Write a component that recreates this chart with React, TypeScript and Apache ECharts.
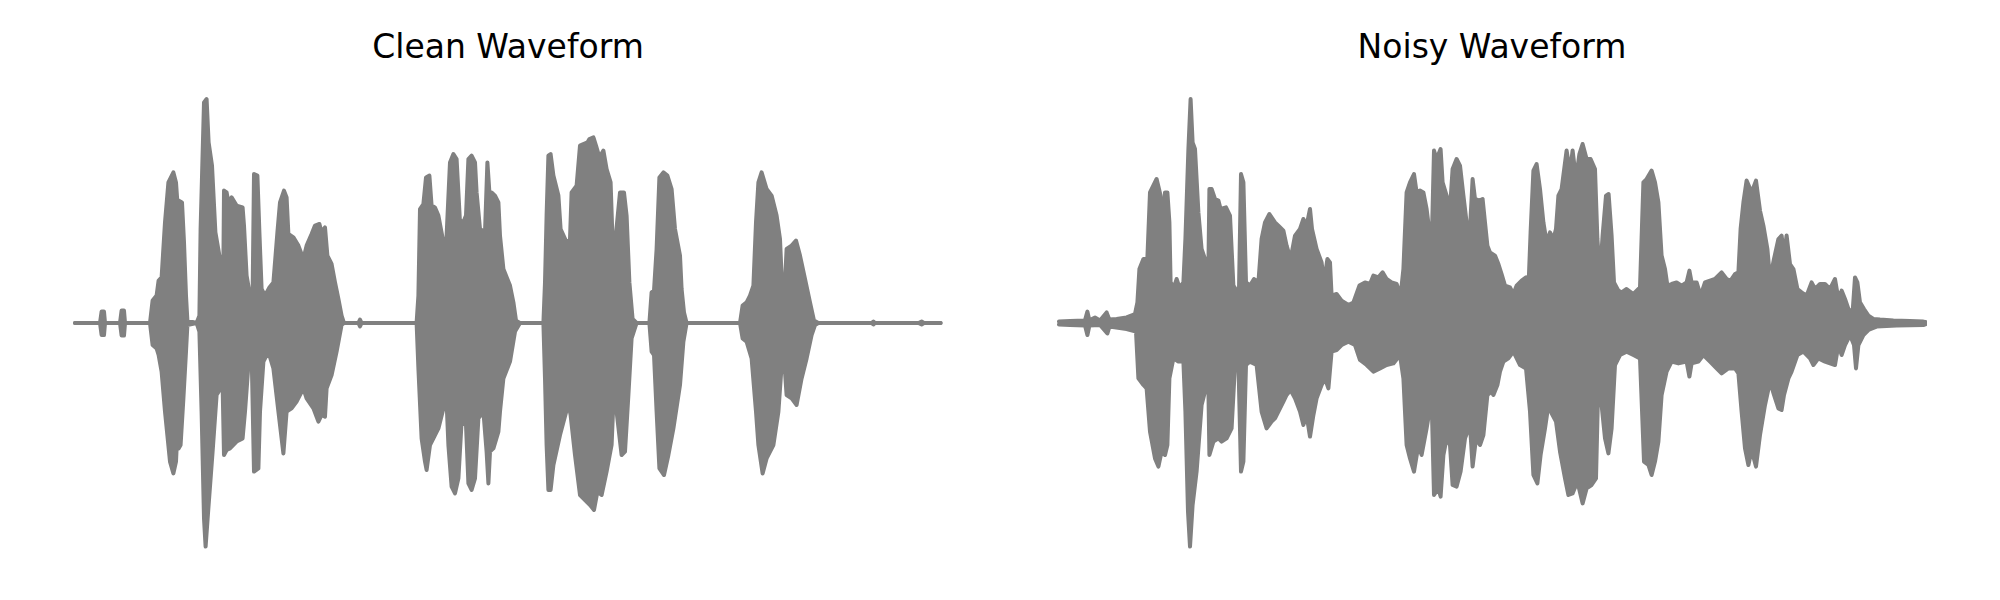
import React, { useEffect, useRef } from "react";
import * as echarts from "echarts";

// Time in seconds, amplitude normalised (envelope of the waveform)
const titles = ["Clean Waveform", "Noisy Waveform"];
const duration = 4.33;

const cleanUpper: [number, number][] = [
  [0, 0], [0.125, 0], [0.133, 0.057], [0.145, 0.057], [0.15, 0], [0.225, 0], [0.233, 0.062], [0.245, 0.062], [0.25, 0],
  [0.375, 0], [0.388, 0.112], [0.408, 0.137], [0.418, 0.212], [0.433, 0.228], [0.45, 0.503], [0.467, 0.703], [0.492, 0.753],
  [0.505, 0.703], [0.512, 0.603], [0.518, 0.612], [0.535, 0.603], [0.545, 0.403], [0.555, 0.137], [0.562, 0.012], [0.608, 0],
  [0.622, 0.037], [0.628, 0.47], [0.645, 1.103], [0.658, 1.12], [0.668, 0.903], [0.685, 0.787], [0.702, 0.453], [0.722, 0.337],
  [0.742, 0.303], [0.745, 0.662], [0.758, 0.653], [0.767, 0.603], [0.783, 0.628], [0.808, 0.587], [0.838, 0.578], [0.845, 0.487],
  [0.858, 0.237], [0.878, 0.12], [0.888, 0.137], [0.895, 0.745], [0.912, 0.737], [0.922, 0.453], [0.933, 0.17], [0.95, 0.137],
  [0.972, 0.178], [0.992, 0.203], [1.012, 0.453], [1.025, 0.603], [1.045, 0.662], [1.058, 0.628], [1.067, 0.445], [1.092, 0.428],
  [1.117, 0.387], [1.142, 0.32], [1.158, 0.387], [1.183, 0.445], [1.2, 0.487], [1.222, 0.495], [1.233, 0.453], [1.25, 0.478],
  [1.262, 0.337], [1.283, 0.295], [1.3, 0.203], [1.317, 0.12], [1.333, 0.037], [1.345, 0], [1.417, 0], [1.425, 0.017], [1.433, 0],
  [1.708, 0], [1.717, 0.137], [1.725, 0.57], [1.742, 0.595], [1.755, 0.728], [1.772, 0.737], [1.783, 0.587], [1.8, 0.578],
  [1.817, 0.537], [1.842, 0.403], [1.853, 0.27], [1.858, 0.437], [1.875, 0.803], [1.892, 0.845], [1.908, 0.82], [1.925, 0.503],
  [1.945, 0.512], [1.955, 0.537], [1.967, 0.82], [1.983, 0.837], [2.0, 0.803], [2.008, 0.653], [2.025, 0.47], [2.05, 0.453],
  [2.062, 0.803], [2.072, 0.653], [2.083, 0.653], [2.1, 0.637], [2.117, 0.603], [2.125, 0.437], [2.142, 0.27], [2.175, 0.187],
  [2.192, 0.103], [2.205, 0.012], [2.225, 0], [2.342, 0], [2.35, 0.203], [2.358, 0.537], [2.367, 0.837], [2.378, 0.845],
  [2.392, 0.737], [2.417, 0.637], [2.428, 0.47], [2.458, 0.403], [2.475, 0.42], [2.483, 0.653], [2.508, 0.687], [2.525, 0.887],
  [2.542, 0.895], [2.562, 0.903], [2.572, 0.92], [2.592, 0.928], [2.605, 0.887], [2.622, 0.828], [2.642, 0.862], [2.658, 0.77],
  [2.678, 0.703], [2.688, 0.403], [2.7, 0.395], [2.725, 0.653], [2.745, 0.653], [2.758, 0.537], [2.772, 0.203], [2.788, 0.02],
  [2.808, 0], [2.872, 0], [2.883, 0.153], [2.895, 0.162], [2.908, 0.37], [2.922, 0.728], [2.942, 0.753], [2.962, 0.737],
  [2.983, 0.67], [3.0, 0.47], [3.025, 0.337], [3.033, 0.17], [3.045, 0.053], [3.058, 0], [3.325, 0], [3.338, 0.087],
  [3.358, 0.103], [3.375, 0.137], [3.392, 0.187], [3.405, 0.503], [3.417, 0.703], [3.433, 0.753], [3.458, 0.67], [3.483, 0.637],
  [3.508, 0.537], [3.525, 0.42], [3.538, 0.12], [3.55, 0.203], [3.558, 0.37], [3.583, 0.387], [3.605, 0.412], [3.625, 0.337],
  [3.65, 0.22], [3.675, 0.103], [3.695, 0.012], [3.717, 0], [3.983, 0], [3.992, 0.007], [4.0, 0], [4.217, 0], [4.233, 0.007],
  [4.245, 0], [4.328, 0],
];

const cleanLower: [number, number][] = [
  [0, 0], [0.125, 0], [0.133, -0.06], [0.145, -0.06], [0.15, 0], [0.225, 0], [0.233, -0.063], [0.245, -0.063], [0.25, 0],
  [0.375, 0], [0.388, -0.11], [0.408, -0.127], [0.418, -0.16], [0.433, -0.243], [0.45, -0.443], [0.475, -0.693], [0.492, -0.752],
  [0.505, -0.693], [0.512, -0.543], [0.518, -0.627], [0.528, -0.61], [0.542, -0.377], [0.555, -0.143], [0.562, -0.01], [0.608, 0],
  [0.622, -0.043], [0.633, -0.443], [0.645, -0.977], [0.653, -1.118], [0.668, -0.91], [0.688, -0.643], [0.708, -0.36],
  [0.738, -0.31], [0.745, -0.66], [0.758, -0.635], [0.775, -0.627], [0.808, -0.593], [0.838, -0.577], [0.85, -0.443],
  [0.867, -0.21], [0.883, -0.143], [0.895, -0.743], [0.917, -0.727], [0.925, -0.443], [0.942, -0.193], [0.967, -0.143],
  [0.992, -0.227], [1.017, -0.443], [1.042, -0.652], [1.058, -0.443], [1.083, -0.427], [1.108, -0.393], [1.142, -0.327],
  [1.158, -0.377], [1.192, -0.427], [1.217, -0.493], [1.233, -0.46], [1.25, -0.468], [1.258, -0.327], [1.283, -0.26],
  [1.308, -0.143], [1.333, -0.01], [1.345, 0], [1.417, 0], [1.425, -0.017], [1.433, 0], [1.708, 0], [1.717, -0.227],
  [1.733, -0.577], [1.75, -0.693], [1.758, -0.735], [1.775, -0.61], [1.792, -0.577], [1.817, -0.527], [1.842, -0.427],
  [1.853, -0.277], [1.867, -0.61], [1.883, -0.818], [1.9, -0.852], [1.917, -0.777], [1.933, -0.493], [1.955, -0.51],
  [1.967, -0.802], [1.983, -0.835], [2.0, -0.777], [2.017, -0.477], [2.042, -0.443], [2.058, -0.643], [2.067, -0.802],
  [2.075, -0.643], [2.092, -0.627], [2.117, -0.543], [2.125, -0.443], [2.142, -0.277], [2.175, -0.193], [2.2, -0.043],
  [2.225, 0], [2.342, 0], [2.35, -0.277], [2.358, -0.61], [2.367, -0.835], [2.378, -0.835], [2.392, -0.71], [2.425, -0.56],
  [2.467, -0.402], [2.478, -0.46], [2.5, -0.66], [2.525, -0.86], [2.55, -0.885], [2.575, -0.91], [2.595, -0.935],
  [2.612, -0.843], [2.633, -0.86], [2.658, -0.743], [2.683, -0.61], [2.692, -0.393], [2.708, -0.443], [2.733, -0.66],
  [2.75, -0.643], [2.767, -0.36], [2.783, -0.077], [2.808, 0], [2.872, 0], [2.883, -0.143], [2.895, -0.16], [2.908, -0.443],
  [2.922, -0.727], [2.945, -0.76], [2.967, -0.66], [2.992, -0.527], [3.025, -0.31], [3.042, -0.093], [3.058, 0], [3.325, 0],
  [3.338, -0.077], [3.358, -0.093], [3.383, -0.177], [3.405, -0.443], [3.417, -0.61], [3.438, -0.752], [3.458, -0.677],
  [3.492, -0.61], [3.517, -0.443], [3.538, -0.143], [3.55, -0.243], [3.558, -0.36], [3.583, -0.377], [3.608, -0.41],
  [3.633, -0.277], [3.658, -0.177], [3.683, -0.06], [3.7, -0.01], [3.717, 0], [3.983, 0], [3.992, -0.007], [4.0, 0],
  [4.217, 0], [4.233, -0.007], [4.245, 0], [4.328, 0],
];

const noisyUpper: [number, number][] = [
  [0, 0.007], [0.055, 0.01], [0.13, 0.013], [0.142, 0.057], [0.152, 0.013], [0.18, 0.027], [0.205, 0.013], [0.238, 0.053],
  [0.252, 0.017], [0.288, 0.02], [0.338, 0.028], [0.38, 0.045], [0.392, 0.103], [0.402, 0.27], [0.422, 0.32], [0.442, 0.328],
  [0.455, 0.653], [0.488, 0.72], [0.508, 0.637], [0.522, 0.503], [0.53, 0.653], [0.542, 0.653], [0.552, 0.503], [0.558, 0.203],
  [0.575, 0.178], [0.588, 0.22], [0.602, 0.178], [0.622, 0.203], [0.632, 0.42], [0.647, 0.87], [0.658, 1.12], [0.668, 0.903],
  [0.68, 0.87], [0.697, 0.553], [0.713, 0.37], [0.73, 0.32], [0.747, 0.27], [0.752, 0.67], [0.763, 0.67], [0.78, 0.62],
  [0.797, 0.612], [0.808, 0.57], [0.835, 0.578], [0.855, 0.537], [0.872, 0.187], [0.888, 0.162], [0.9, 0.17], [0.91, 0.745],
  [0.922, 0.703], [0.935, 0.203], [0.955, 0.187], [0.975, 0.22], [0.997, 0.203], [1.013, 0.42], [1.03, 0.503], [1.052, 0.545],
  [1.08, 0.503], [1.097, 0.487], [1.122, 0.462], [1.138, 0.387], [1.158, 0.32], [1.18, 0.437], [1.205, 0.47], [1.222, 0.52],
  [1.238, 0.487], [1.255, 0.57], [1.265, 0.47], [1.288, 0.37], [1.313, 0.303], [1.325, 0.203], [1.342, 0.32], [1.355, 0.303],
  [1.363, 0.137], [1.388, 0.145], [1.413, 0.112], [1.447, 0.09], [1.472, 0.103], [1.502, 0.187], [1.53, 0.203], [1.555, 0.195],
  [1.572, 0.237], [1.597, 0.228], [1.618, 0.253], [1.638, 0.22], [1.663, 0.203], [1.688, 0.195], [1.708, 0.137], [1.722, 0.27],
  [1.738, 0.653], [1.755, 0.703], [1.775, 0.745], [1.788, 0.653], [1.805, 0.662], [1.822, 0.653], [1.838, 0.57], [1.863, 0.37],
  [1.875, 0.862], [1.888, 0.82], [1.908, 0.87], [1.918, 0.703], [1.938, 0.637], [1.955, 0.57], [1.968, 0.77], [1.988, 0.82],
  [2.005, 0.787], [2.022, 0.637], [2.038, 0.503], [2.055, 0.47], [2.068, 0.72], [2.08, 0.62], [2.102, 0.612], [2.118, 0.62],
  [2.13, 0.503], [2.142, 0.387], [2.155, 0.353], [2.18, 0.337], [2.197, 0.295], [2.213, 0.245], [2.23, 0.187], [2.255, 0.178],
  [2.272, 0.145], [2.288, 0.187], [2.313, 0.212], [2.335, 0.228], [2.347, 0.17], [2.358, 0.453], [2.372, 0.762], [2.388, 0.795],
  [2.405, 0.67], [2.422, 0.503], [2.438, 0.403], [2.455, 0.453], [2.472, 0.42], [2.485, 0.47], [2.497, 0.637], [2.513, 0.67],
  [2.538, 0.862], [2.555, 0.753], [2.568, 0.862], [2.585, 0.72], [2.602, 0.845], [2.618, 0.895], [2.638, 0.82], [2.658, 0.82],
  [2.68, 0.77], [2.692, 0.42], [2.705, 0.237], [2.718, 0.437], [2.735, 0.637], [2.748, 0.645], [2.763, 0.437], [2.775, 0.203],
  [2.797, 0.162], [2.813, 0.153], [2.838, 0.17], [2.872, 0.145], [2.905, 0.178], [2.922, 0.703], [2.938, 0.72], [2.963, 0.762],
  [2.98, 0.703], [2.997, 0.603], [3.013, 0.337], [3.03, 0.27], [3.042, 0.187], [3.063, 0.195], [3.088, 0.203], [3.113, 0.187],
  [3.138, 0.203], [3.152, 0.262], [3.163, 0.203], [3.188, 0.203], [3.208, 0.137], [3.23, 0.203], [3.255, 0.212], [3.28, 0.22],
  [3.313, 0.253], [3.338, 0.22], [3.358, 0.212], [3.38, 0.245], [3.397, 0.253], [3.408, 0.47], [3.422, 0.603], [3.438, 0.712],
  [3.463, 0.653], [3.485, 0.712], [3.505, 0.562], [3.522, 0.487], [3.542, 0.37], [3.555, 0.22], [3.575, 0.32], [3.597, 0.42],
  [3.613, 0.437], [3.625, 0.337], [3.638, 0.437], [3.655, 0.295], [3.672, 0.27], [3.692, 0.17], [3.713, 0.153], [3.738, 0.137],
  [3.763, 0.203], [3.78, 0.17], [3.805, 0.195], [3.83, 0.195], [3.855, 0.17], [3.88, 0.22], [3.897, 0.12], [3.913, 0.162],
  [3.93, 0.12], [3.947, 0.07], [3.968, 0.053], [3.98, 0.228], [3.992, 0.203], [4.005, 0.103], [4.025, 0.07], [4.047, 0.037],
  [4.072, 0.02], [4.105, 0.017], [4.172, 0.013], [4.255, 0.01], [4.322, 0.007], [4.332, 0.005],
];

const noisyLower: [number, number][] = [
  [0, -0.007], [0.055, -0.01], [0.13, -0.013], [0.142, -0.06], [0.152, -0.013], [0.205, -0.01], [0.242, -0.052], [0.252, -0.018],
  [0.338, -0.03], [0.385, -0.043], [0.397, -0.277], [0.422, -0.31], [0.438, -0.327], [0.455, -0.543], [0.48, -0.677],
  [0.497, -0.718], [0.513, -0.643], [0.53, -0.66], [0.542, -0.61], [0.552, -0.277], [0.572, -0.177], [0.597, -0.193],
  [0.622, -0.193], [0.632, -0.443], [0.645, -0.943], [0.655, -1.118], [0.668, -0.91], [0.688, -0.743], [0.713, -0.41],
  [0.73, -0.343], [0.747, -0.327], [0.752, -0.66], [0.772, -0.593], [0.797, -0.577], [0.813, -0.593], [0.838, -0.577],
  [0.863, -0.527], [0.88, -0.21], [0.897, -0.193], [0.91, -0.743], [0.922, -0.693], [0.935, -0.21], [0.955, -0.193],
  [0.988, -0.21], [1.013, -0.443], [1.038, -0.527], [1.063, -0.493], [1.08, -0.477], [1.122, -0.393], [1.138, -0.36],
  [1.158, -0.335], [1.18, -0.377], [1.205, -0.443], [1.222, -0.51], [1.238, -0.46], [1.255, -0.568], [1.272, -0.46],
  [1.288, -0.377], [1.313, -0.31], [1.33, -0.277], [1.347, -0.327], [1.363, -0.143], [1.388, -0.135], [1.413, -0.11],
  [1.447, -0.093], [1.48, -0.11], [1.505, -0.185], [1.538, -0.21], [1.572, -0.243], [1.605, -0.227], [1.638, -0.21],
  [1.672, -0.202], [1.705, -0.16], [1.722, -0.277], [1.738, -0.61], [1.755, -0.677], [1.775, -0.743], [1.797, -0.61],
  [1.813, -0.66], [1.838, -0.527], [1.863, -0.377], [1.875, -0.86], [1.897, -0.827], [1.908, -0.868], [1.922, -0.66],
  [1.938, -0.577], [1.955, -0.61], [1.968, -0.81], [1.988, -0.818], [2.008, -0.743], [2.03, -0.577], [2.055, -0.51],
  [2.068, -0.718], [2.085, -0.577], [2.105, -0.61], [2.122, -0.56], [2.142, -0.36], [2.163, -0.343], [2.172, -0.36],
  [2.192, -0.31], [2.205, -0.243], [2.222, -0.193], [2.247, -0.177], [2.272, -0.143], [2.305, -0.21], [2.335, -0.227],
  [2.355, -0.443], [2.372, -0.76], [2.392, -0.802], [2.408, -0.66], [2.43, -0.527], [2.447, -0.41], [2.463, -0.452],
  [2.485, -0.493], [2.505, -0.643], [2.53, -0.777], [2.547, -0.86], [2.568, -0.852], [2.592, -0.793], [2.618, -0.902],
  [2.638, -0.827], [2.663, -0.81], [2.685, -0.777], [2.697, -0.277], [2.713, -0.41], [2.73, -0.577], [2.747, -0.652],
  [2.763, -0.527], [2.78, -0.21], [2.805, -0.16], [2.838, -0.143], [2.872, -0.16], [2.905, -0.177], [2.925, -0.693],
  [2.947, -0.71], [2.963, -0.76], [2.98, -0.693], [2.997, -0.593], [3.013, -0.36], [3.038, -0.243], [3.063, -0.193],
  [3.097, -0.202], [3.138, -0.193], [3.152, -0.268], [3.163, -0.202], [3.197, -0.193], [3.222, -0.16], [3.255, -0.193],
  [3.288, -0.227], [3.313, -0.252], [3.347, -0.227], [3.38, -0.227], [3.397, -0.252], [3.413, -0.443], [3.43, -0.627],
  [3.447, -0.71], [3.463, -0.635], [3.485, -0.718], [3.505, -0.56], [3.53, -0.41], [3.555, -0.293], [3.575, -0.36],
  [3.597, -0.427], [3.613, -0.435], [3.625, -0.36], [3.647, -0.277], [3.663, -0.243], [3.692, -0.16], [3.722, -0.143],
  [3.755, -0.177], [3.772, -0.21], [3.797, -0.177], [3.83, -0.193], [3.88, -0.21], [3.897, -0.11], [3.913, -0.16],
  [3.93, -0.11], [3.955, -0.06], [3.975, -0.11], [3.985, -0.227], [3.997, -0.11], [4.022, -0.06], [4.047, -0.035],
  [4.088, -0.018], [4.188, -0.013], [4.322, -0.01], [4.332, -0.007],
];

const GRAY = "#808080";

function envSeries(data: [number, number][], idx: number) {
  return {
    type: "line",
    xAxisIndex: idx,
    yAxisIndex: idx,
    data,
    symbol: "none",
    showSymbol: false,
    silent: true,
    lineStyle: { color: GRAY, width: 4, cap: "round", join: "round" },
    areaStyle: { color: GRAY, opacity: 1, origin: 0 },
    emphasis: { disabled: true },
  };
}

export default function App() {
  const ref = useRef<HTMLDivElement>(null);
  useEffect(() => {
    if (!ref.current) return;
    const chart = echarts.init(ref.current, undefined, { renderer: "svg" });
    const centers = [508, 1492];
    const lefts = [75, 1059];
    chart.setOption({
      animation: false,
      backgroundColor: "#ffffff",
      graphic: titles.map((t, i) => ({
        type: "text",
        x: centers[i],
        y: 46,
        style: {
          text: t,
          font: '33px "DejaVu Sans"',
          fill: "#000000",
          align: "center",
          verticalAlign: "middle",
        },
      })),
      grid: lefts.map((l) => ({ left: l, width: 866, top: 83, height: 480 })),
      xAxis: [0, 1].map((i) => ({
        type: "value",
        gridIndex: i,
        min: 0,
        max: duration,
        show: false,
      })),
      yAxis: [0, 1].map((i) => ({
        type: "value",
        gridIndex: i,
        min: -1.2,
        max: 1.2,
        show: false,
      })),
      series: [
        envSeries(cleanUpper, 0),
        envSeries(cleanLower, 0),
        envSeries(noisyUpper, 1),
        envSeries(noisyLower, 1),
      ],
    });
    return () => chart.dispose();
  }, []);
  return (
    <div
      ref={ref}
      style={{ position: "absolute", left: 0, top: 0, width: 2000, height: 600, background: "#fff" }}
    />
  );
}
